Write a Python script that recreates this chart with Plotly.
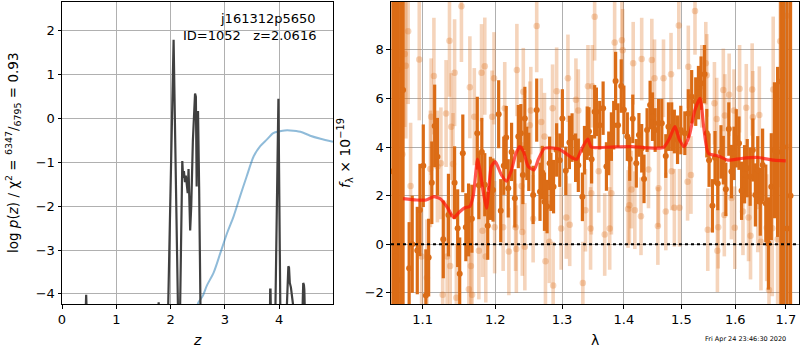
import plotly.graph_objects as go

# ---------------- left panel: redshift probability ----------------
z_grid = [0.00, 0.43, 0.438, 0.445, 0.452, 0.46, 1.76, 1.775, 1.78, 1.785, 1.80,
          1.94, 1.955, 2.045, 2.055, 2.065, 2.135, 2.15, 2.17, 2.175, 2.215, 2.23,
          2.245, 2.265, 2.28, 2.30, 2.315, 2.33, 2.36, 2.38, 2.41, 2.45, 2.465,
          2.48, 2.49, 2.505, 2.515, 2.525, 2.55, 2.57, 3.80, 3.82, 3.833, 3.84,
          3.85, 3.90, 3.93, 3.972, 3.985, 4.02, 4.06, 4.14, 4.168, 4.18, 4.195,
          4.215, 4.26, 4.30, 4.43, 4.442, 4.455, 4.462, 4.47, 4.50, 4.99]
log_pz = [-9, -9, -4.3, -4.02, -4.3, -9, -9, -4.3, -4.19, -4.3, -9,
          -9, -4.3, 1.80, 1.80, 1.0, -4.3, -9, -9, -4.3, -0.97, -1.35,
          -1.2, -1.45, -1.3, -1.65, -1.7, -1.15, -2.55, -2.0, -0.5, 0.57, 0.5,
          -1.55, 0.15, 0.15, -1.55, -1.55, -4.3, -9, -9, -4.3, -3.9, -3.9,
          -4.3, -9, -4.3, 0.45, 0.45, -4.3, -9, -4.3, -3.37, -3.4, -3.75,
          -3.85, -4.3, -9, -4.3, -3.75, -3.8, -3.9, -4.3, -9, -9]

z_chi = [2.46, 2.51, 2.59, 2.667, 2.79, 2.915, 3.04, 3.16, 3.28, 3.40, 3.53,
         3.65, 3.77, 3.89, 4.01, 4.10, 4.20, 4.39, 4.57, 4.76, 4.99]
chi_curve = [-4.45, -4.2, -4.05, -3.81, -3.52, -3.07, -2.61, -2.23, -1.77, -1.32,
             -0.86, -0.63, -0.48, -0.33, -0.29, -0.27, -0.27, -0.30, -0.39, -0.46, -0.53]

z_ticks = [0, 1, 2, 3, 4]
lnp_ticks = [-4, -3, -2, -1, 0, 1, 2]

# ---------------- right panel: grism spectrum ----------------
dark_wave = [1.0615, 1.0648, 1.0680, 1.0714, 1.0744, 1.0823, 1.0863, 1.0929, 1.0964,
             1.1008, 1.1042, 1.1079, 1.1121, 1.1159, 1.1196, 1.1275, 1.1345, 1.1429,
             1.1471, 1.1499, 1.1542, 1.1584, 1.1622, 1.1668, 1.1744, 1.1766, 1.1808,
             1.1850, 1.1892, 1.1930, 1.1968, 1.2049, 1.2079, 1.2123, 1.2158, 1.2188,
             1.2237, 1.2285, 1.2336, 1.2374, 1.2404, 1.2433, 1.2463, 1.2492, 1.2557,
             1.2611, 1.2661, 1.2695, 1.2729, 1.2769, 1.2808, 1.2828, 1.2868, 1.2916,
             1.2965, 1.3005, 1.3059, 1.3115, 1.3157, 1.3213, 1.3256, 1.3321, 1.3354,
             1.3398, 1.3426, 1.3469, 1.3518, 1.3546, 1.3600, 1.3656, 1.3710, 1.3748,
             1.3792, 1.3830, 1.3862, 1.3902, 1.3956, 1.4000, 1.4058, 1.4098, 1.4150,
             1.4210, 1.4255, 1.4302, 1.4342, 1.4395, 1.4447, 1.4489, 1.4535, 1.4594,
             1.4651, 1.4721, 1.4768, 1.4826, 1.4873, 1.4930, 1.4988, 1.5061, 1.5124,
             1.5185, 1.5259, 1.5309, 1.5357, 1.5420, 1.5463, 1.5505, 1.5568, 1.5616,
             1.5667, 1.5728, 1.5772, 1.5820, 1.5876, 1.5926, 1.5976, 1.6019, 1.6071,
             1.6121, 1.6179, 1.6231, 1.6288, 1.6340, 1.6390, 1.6437, 1.6487, 1.6533,
             1.6596, 1.6648, 1.6706, 1.6769, 1.6833, 1.6898, 1.6950, 1.7025, 1.7096]
dark_flux = [3.0, -0.5, 7.17, -1.47, 6.35, -0.99, 0.0, -0.26, 1.41,
             3.23, -2.11, -0.55, 2.53, 4.87, 3.6, 0.2, 1.2, 2.53,
             0.66, -1.22, 3.74, 0.7, 1.0, 1.05, 4.57, 2.43, 3.8,
             2.45, 0.76, 2.3, 2.23, 5.35, 1.38, 3.23, 4.39, 2.3,
             3.8, 1.89, 4.43, 4.57, 2.85, 5.18, 3.74, 3.39, 2.03,
             5.52, 2.16, 2.95, 1.75, 1.55, 3.33, 2.57, 2.37, 3.88,
             3.46, 5.18, 3.02, 4.19, 4.39, 3.56, 3.25, 1.95, 3.87,
             4.57, 4.64, 3.5, 5.45, 5.45, 4.9, 5.6, 3.2, 3.74,
             4.43, 4.9, 6.72, 4.9, 6.51, 5.53, 4.43, 3.51, 5.16,
             3.33, 4.5, 3.95, 2.69, 4.7, 5.73, 5.25, 4.7, 4.98,
             4.98, 3.63, 4.84, 4.84, 4.64, 4.3, 4.7, 4.57, 5.38,
             6.07, 5.87, 6.24, 6.63, 7.0, 4.57, 3.46, 1.58, 3.56,
             2.5, 3.8, 3.46, 2.26, 4.74, 2.99, 3.74, 4.36, 4.16,
             2.2, 2.88, 3.13, 2.78, 3.88, 2.03, 3.05, 1.75, 3.26,
             1.68, 0.03, 2.37, 3.87, 3.8, 6.7, 4.0, 0.65, 2.0]
dark_err = [20, 20, 20, 20, 20, 1.9, 2.0, 1.8, 1.9,
            1.7, 1.9, 1.6, 1.7, 1.7, 1.6, 1.6, 1.7, 1.5,
            1.6, 1.5, 1.6, 1.4, 1.5, 1.4, 1.5, 1.4, 1.4,
            1.3, 1.4, 1.3, 1.3, 1.4, 1.3, 1.2, 1.3, 1.2,
            1.2, 1.2, 1.3, 1.2, 1.2, 1.3, 1.1, 1.2, 1.2,
            1.3, 1.2, 1.1, 1.2, 1.1, 1.1, 1.2, 1.1, 1.1,
            1.1, 1.2, 1.0, 1.1, 1.0, 1.0, 1.1, 1.0, 1.0,
            1.1, 1.0, 1.0, 1.1, 1.0, 1.0, 1.1, 1.0, 0.9,
            1.0, 1.0, 1.2, 0.9, 1.1, 1.0, 1.0, 0.9, 1.0,
            1.0, 0.9, 1.0, 1.0, 0.9, 1.0, 1.0, 0.9, 1.0,
            1.0, 0.9, 1.0, 1.0, 0.9, 1.0, 1.0, 0.9, 1.0,
            1.1, 1.0, 1.1, 1.1, 1.2, 1.0, 1.1, 1.1, 1.1,
            1.1, 1.1, 1.0, 1.1, 1.1, 1.1, 1.1, 1.2, 1.1,
            1.2, 1.2, 1.2, 1.2, 1.3, 1.3, 1.4, 1.4, 1.5,
            1.6, 1.9, 2.2, 2.8, 3.5, 20, 20, 20, 20]

light_wave = [1.0640, 1.0736, 1.0766, 1.0780, 1.0810, 1.0842, 1.0955, 1.0986, 1.1056,
              1.1102, 1.1112, 1.1149, 1.1196, 1.1243, 1.1267, 1.1313, 1.1327, 1.1359,
              1.1369, 1.1383, 1.1407, 1.1429, 1.1453, 1.1523, 1.1626, 1.1640, 1.1654,
              1.1671, 1.1702, 1.1766, 1.1804, 1.1818, 1.1850, 1.1864, 1.1954, 1.1982,
              1.1991, 1.2114, 1.2137, 1.2197, 1.2296, 1.2307, 1.2315, 1.2384, 1.2395,
              1.2410, 1.2433, 1.2507, 1.2522, 1.2557, 1.2611, 1.2680, 1.2729, 1.2744,
              1.2803, 1.2853, 1.2862, 1.2916, 1.2986, 1.3066, 1.3092, 1.3120, 1.3218,
              1.3256, 1.3328, 1.3370, 1.3410, 1.3452, 1.3464, 1.3480, 1.3518, 1.3584,
              1.3682, 1.3764, 1.3792, 1.3846, 1.3967, 1.3980, 1.4070, 1.4093, 1.4127,
              1.4157, 1.4185, 1.4290, 1.4302, 1.4419, 1.4477, 1.4524, 1.4582, 1.4594,
              1.4681, 1.4721, 1.4814, 1.4826, 1.4873, 1.4953, 1.4965, 1.5111, 1.5124,
              1.5172, 1.5246, 1.5370, 1.5444, 1.5463, 1.5481, 1.5605, 1.5648, 1.5661,
              1.5676, 1.5772, 1.5791, 1.5802, 1.5883, 1.5926, 1.5976, 1.5991, 1.6083,
              1.6148, 1.6212, 1.6256, 1.6295, 1.6327, 1.6340, 1.6437, 1.6468, 1.6500,
              1.6615, 1.6660, 1.6725, 1.6744, 1.6833, 1.6885, 1.7013, 1.7060]
light_flux = [5.0, 3.7, 7.83, 7.35, 8.77, 2.4, 7.6, -0.5, -1.38,
              3.1, 5.25, 6.92, 3.2, 3.33, -2.08, 5.38, -0.5, 8.37,
              -0.9, 4.84, 3.3, 7.06, -2.2, 9.8, -1.85, 6.46, -0.9,
              -2.08, 5.25, -0.27, 7.06, 0.55, 7.33, -0.5, 5.25, 6.83,
              0.7, 0.7, 5.6, -0.3, 0.7, -0.2, 7.17, 2.4, 0.5,
              6.28, -0.1, 4.9, 5.5, 1.05, 8.98, 5.03, 4.43, -0.7,
              0.1, 5.6, -1.7, 6.3, 0.65, 1.1, 6.83, 0.8, 5.95,
              5.5, -1.6, 1.4, 6.5, 0.65, 2.1, 6.5, 9.36, 3.0,
              0.4, 0.65, 2.1, 8.3, 8.4, 7.98, 1.45, 1.6, 2.25,
              7.45, 1.4, 1.15, 7.62, 3.08, 7.58, 6.83, 0.75, 2.3,
              6.83, 1.35, 7.0, 3.0, 1.5, 9.0, 1.5, 2.57, 7.3,
              2.85, 9.6, 6.5, 7.45, 6.95, 0.6, 5.8, 5.15, -0.27,
              0.7, 6.35, 1.2, 5.3, 6.15, 1.9, 5.5, 0.68, 6.4,
              1.35, 5.62, 1.1, 0.35, 6.37, 5.23, 1.57, 5.32, 0.1,
              0.68, -1.88, 0.66, 6.37, 0.2, 8.35, 9.4, 4.0]
light_err = [20, 12, 3.0, 3.0, 3.0, 2.6, 2.5, 2.5, 2.4,
             2.4, 2.4, 2.4, 2.3, 2.3, 2.3, 2.2, 2.3, 2.3,
             2.2, 2.2, 2.1, 2.2, 2.2, 2.3, 2.1, 2.1, 2.0,
             2.0, 2.0, 2.0, 2.0, 1.9, 2.0, 1.9, 1.9, 1.9,
             1.9, 1.8, 1.9, 1.8, 1.8, 1.8, 1.9, 1.8, 1.8,
             1.8, 1.8, 1.8, 1.8, 1.8, 1.9, 1.8, 1.8, 1.8,
             1.7, 1.8, 1.8, 1.8, 1.7, 1.7, 1.8, 1.7, 1.7,
             1.7, 1.7, 1.7, 1.7, 1.7, 1.7, 1.7, 1.8, 1.7,
             1.7, 1.7, 1.7, 1.7, 1.7, 1.7, 1.6, 1.6, 1.6,
             1.7, 1.6, 1.6, 1.7, 1.6, 1.7, 1.6, 1.6, 1.6,
             1.6, 1.6, 1.7, 1.6, 1.6, 1.8, 1.6, 1.6, 1.7,
             1.6, 1.8, 1.7, 1.7, 1.7, 1.7, 1.7, 1.7, 1.7,
             1.7, 1.7, 1.7, 1.7, 1.7, 1.7, 1.7, 1.7, 1.8,
             1.8, 1.8, 1.8, 1.8, 1.9, 1.9, 1.9, 2.0, 2.0,
             2.2, 2.4, 2.8, 3.0, 4.0, 6.0, 8.0, 20]

model_wave = [1.0744, 1.0921, 1.1046, 1.1149, 1.1243, 1.1337, 1.1418, 1.1499, 1.1570,
              1.1640, 1.1687, 1.1748, 1.1780, 1.1828, 1.1874, 1.1906, 1.1944, 1.2000,
              1.2089, 1.2163, 1.2237, 1.2296, 1.2359, 1.2414, 1.2484, 1.2572, 1.2636,
              1.2729, 1.2828, 1.2950, 1.3079, 1.3161, 1.3231, 1.3325, 1.3407, 1.3461,
              1.3518, 1.3792, 1.4127, 1.4390, 1.4681, 1.4774, 1.4884, 1.4965, 1.5048,
              1.5146, 1.5241, 1.5339, 1.5407, 1.5494, 1.5680, 1.5865, 1.6115, 1.6437,
              1.6760, 1.6998]
model_flux = [1.88, 1.82, 1.82, 1.96, 1.85, 1.48, 1.1, 1.34, 1.5,
              1.56, 2.0, 3.5, 3.06, 2.17, 1.48, 2.26, 3.2, 3.4,
              2.85, 2.6, 3.06, 3.7, 4.02, 3.8, 3.2, 3.06, 3.5,
              3.95, 3.97, 3.92, 3.7, 3.55, 3.5, 4.0, 4.33, 4.0,
              3.98, 4.0, 4.02, 3.97, 3.98, 4.3, 4.84, 4.3, 4.02,
              4.5, 5.5, 6.0, 4.8, 3.74, 3.63, 3.46, 3.53, 3.57,
              3.46, 3.43]

wave_ticks = [1.1, 1.2, 1.3, 1.4, 1.5, 1.6, 1.7]
flux_ticks = [-2, 0, 2, 4, 6, 8]

DARK = "rgb(219,108,22)"
LIGHT = "rgba(222,112,30,0.30)"
FONT = "DejaVu Sans"

fig = go.Figure()

fig.add_trace(go.Scatter(x=z_chi, y=chi_curve, mode="lines",
                         line=dict(color="rgba(31,119,180,0.5)", width=2,
                                   shape="spline", smoothing=0.8),
                         xaxis="x", yaxis="y", showlegend=False))
fig.add_trace(go.Scatter(x=z_grid, y=log_pz, mode="lines",
                         line=dict(color="#404040", width=2.2),
                         xaxis="x", yaxis="y", showlegend=False))

fig.add_trace(go.Scatter(x=light_wave, y=light_flux, mode="markers",
                         marker=dict(color=LIGHT, size=6.5),
                         error_y=dict(type="data", array=light_err, color=LIGHT,
                                      thickness=3.6, width=0),
                         xaxis="x2", yaxis="y2", showlegend=False))
fig.add_trace(go.Scatter(x=dark_wave, y=dark_flux, mode="markers",
                         marker=dict(color=DARK, size=6),
                         error_y=dict(type="data", array=dark_err, color=DARK,
                                      thickness=3.2, width=0),
                         xaxis="x2", yaxis="y2", showlegend=False))
fig.add_trace(go.Scatter(x=model_wave, y=model_flux, mode="lines",
                         line=dict(color="rgba(255,20,10,0.72)", width=3.2,
                                   shape="spline", smoothing=0.6),
                         xaxis="x2", yaxis="y2", showlegend=False))

axis_common = dict(showline=True, mirror=True, linecolor="black", linewidth=1,
                   ticks="outside", ticklen=3.5, tickwidth=0.8, tickcolor="black",
                   showgrid=True, gridcolor="#b0b0b0", gridwidth=0.8, zeroline=False,
                   tickfont=dict(family=FONT, size=13, color="black"))

fig.update_layout(
    width=800, height=350,
    margin=dict(l=62, r=1, t=2, b=46),
    paper_bgcolor="white", plot_bgcolor="white",
    xaxis=dict(domain=[0, 0.3677], range=[0, 4.99], tickvals=z_ticks,
               anchor="y", **axis_common),
    yaxis=dict(domain=[0, 1], range=[-4.23, 2.66], tickvals=lnp_ticks,
               anchor="x", **axis_common),
    xaxis2=dict(domain=[0.4464, 1], type="log",
                range=[0.02490, 0.23729], tickvals=wave_ticks,
                ticktext=[f"{v:.1f}" for v in wave_ticks],
                anchor="y2", **axis_common),
    yaxis2=dict(domain=[0, 1], range=[-2.46, 9.97], tickvals=flux_ticks,
                anchor="x2", **axis_common),
)

# dotted zero level of the spectrum
fig.add_shape(type="line", xref="x2 domain", yref="y2", x0=0, x1=1, y0=0, y1=0,
              line=dict(color="black", width=2, dash="dot"), layer="above")

annots = [
    dict(text="j161312p5650", x=318, y=19),
    dict(text="ID=1052   z=2.0616", x=318, y=35),
]
for a in annots:
    fig.add_annotation(text=a["text"], xref="paper", yref="paper",
                       x=(a["x"] - 62) / 737, y=1 - (a["y"] - 2) / 302,
                       xanchor="right", yanchor="middle", showarrow=False,
                       font=dict(family=FONT, size=13, color="black"))

# axis titles
fig.add_annotation(text="<i>z</i>", xref="paper", yref="paper",
                   x=(197 - 62) / 737, y=-(340 - 304) / 302,
                   xanchor="center", yanchor="middle", showarrow=False,
                   font=dict(family=FONT, size=14, color="black"))
fig.add_annotation(text="λ", xref="paper", yref="paper",
                   x=(595 - 62) / 737, y=-(340 - 304) / 302,
                   xanchor="center", yanchor="middle", showarrow=False,
                   font=dict(family=FONT, size=14, color="black"))
fig.add_annotation(text="log <i>p</i>(<i>z</i>) / χ<sup>2</sup> = <sup>6347</sup>/<sub>6795</sub> = 0.93",
                   xref="paper", yref="paper",
                   x=(13 - 62) / 737, y=1 - (153 - 2) / 302, textangle=-90,
                   xanchor="center", yanchor="middle", showarrow=False,
                   font=dict(family=FONT, size=13.5, color="black"))
fig.add_annotation(text="<i>f</i><sub>λ</sub> × 10<sup>−19</sup>",
                   xref="paper", yref="paper",
                   x=(345 - 62) / 737, y=1 - (153 - 2) / 302, textangle=-90,
                   xanchor="center", yanchor="middle", showarrow=False,
                   font=dict(family=FONT, size=14, color="black"))
fig.add_annotation(text="Fri Apr 24 23:46:30 2020", xref="paper", yref="paper",
                   x=(745 - 62) / 737, y=-(339 - 304) / 302,
                   xanchor="center", yanchor="middle", showarrow=False,
                   font=dict(family=FONT, size=6.5, color="black"))

fig.write_html("out.html")
